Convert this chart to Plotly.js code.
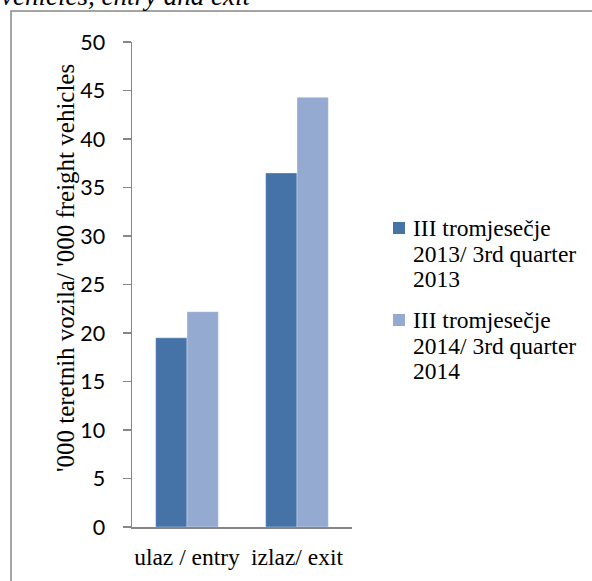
<!DOCTYPE html>
<html>
<head>
<meta charset="utf-8">
<script src="https://cdn.plot.ly/plotly-3.0.1.min.js"></script>
<style>html,body{margin:0;padding:0;background:#fff;}#chart{width:592px;height:581px;}</style>
</head>
<body>
<div id="chart"></div>
<script>
const categories = ["ulaz / entry", "izlaz/ exit"];
const series2013 = [19.5, 36.5];
const series2014 = [22.2, 44.3];
const seriesLabels2013 = ["III tromjesečje", "2013/ 3rd quarter", "2013"];
const seriesLabels2014 = ["III tromjesečje", "2014/ 3rd quarter", "2014"];
const seriesColors = ["#4572A7", "#95AAD0"];
const yTitle = "'000 teretnih vozila/ '000 freight vehicles";
const topText = "vehicles, entry and exit";

const serif = "Liberation Serif, Times New Roman, serif";
const tickFontFamily = "Lato, Liberation Sans, sans-serif";
const axisGray = "#868686";

// plot area in pixels: x 132..352, y 42..527
const PL = 132, PW = 220, PB = 527, PH = 485;
const px = v => (v - PL) / PW;
const py = v => (PB - v) / PH;

const data = [
  {type: "bar", x: categories, y: series2013, name: seriesLabels2013.join(" "),
   marker: {color: seriesColors[0], line: {color: "rgba(255,255,255,0.35)", width: 1}}},
  {type: "bar", x: categories, y: series2014, name: seriesLabels2014.join(" "),
   marker: {color: seriesColors[1], line: {color: "rgba(255,255,255,0.35)", width: 1}}}
];

const annotations = [
  {text: yTitle, xref: "paper", yref: "paper",
   x: px(65), y: py(268), xanchor: "center", yanchor: "middle",
   textangle: -90, showarrow: false,
   font: {family: serif, size: 25, color: "#000"}},
  {text: "<i>" + topText + "</i>", xref: "paper", yref: "paper",
   x: px(253), y: py(13), xanchor: "right", yanchor: "bottom",
   showarrow: false,
   font: {family: serif, size: 27, color: "#000"}}
];
const shapes = [
  {type: "rect", xref: "paper", yref: "paper",
   x0: px(11), x1: px(620), y0: py(620), y1: py(11),
   line: {color: axisGray, width: 1.5}, fillcolor: "rgba(0,0,0,0)", layer: "below"}
];

// legend (drawn by hand so the line spacing matches)
const legendItems = [
  {lines: seriesLabels2013, color: seriesColors[0], top: 228},
  {lines: seriesLabels2014, color: seriesColors[1], top: 320}
];
const lineStep = 25.5;
legendItems.forEach(item => {
  shapes.push({type: "rect", xref: "paper", yref: "paper",
    x0: px(393), x1: px(405), y0: py(item.top + 6), y1: py(item.top - 6),
    line: {width: 0}, fillcolor: item.color});
  item.lines.forEach((ln, i) => {
    annotations.push({text: ln, xref: "paper", yref: "paper",
      x: px(411), y: py(item.top + i * lineStep), xanchor: "left", yanchor: "middle",
      showarrow: false, font: {family: serif, size: 23.5, color: "#000"}});
  });
});

const layout = {
  width: 592, height: 581,
  margin: {l: PL, r: 592 - PL - PW, t: 42, b: 581 - PB, pad: 0},
  paper_bgcolor: "#fff", plot_bgcolor: "#fff",
  bargap: 0.43, bargroupgap: 0,
  barmode: "group",
  showlegend: false,
  xaxis: {
    type: "category",
    showline: true, linecolor: axisGray, linewidth: 1.5,
    ticks: "", showgrid: false, zeroline: false,
    tickfont: {family: serif, size: 23.5, color: "#000"},
    ticklabelstandoff: 8
  },
  yaxis: {
    range: [0, 50], dtick: 5, tick0: 0,
    showline: true, linecolor: axisGray, linewidth: 1.5,
    ticks: "outside", ticklen: 8, tickcolor: axisGray, tickwidth: 1.5,
    showgrid: false, zeroline: false,
    tickfont: {family: tickFontFamily, size: 21.5, color: "#000"},
    ticklabelstandoff: 13
  },
  shapes: shapes,
  annotations: annotations
};

Plotly.newPlot("chart", data, layout, {displayModeBar: false, staticPlot: true});
</script>
</body>
</html>
